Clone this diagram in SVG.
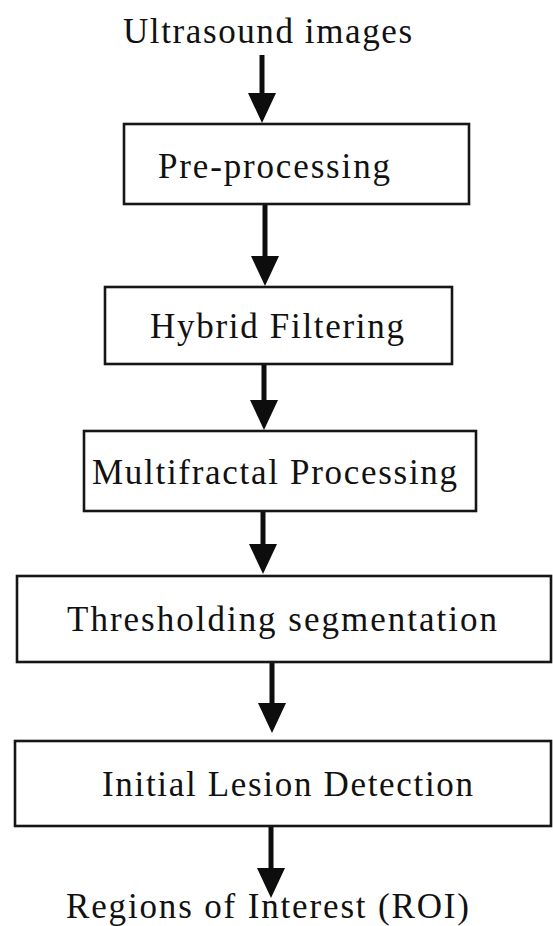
<svg xmlns="http://www.w3.org/2000/svg" width="553" height="926" viewBox="0 0 553 926">
  <style>
    .box { fill: #ffffff; stroke: #161616; stroke-width: 2.6; }
    .lbl { font-family: "Liberation Serif", "Times New Roman", serif; font-size: 35px; fill: #111111; }
    .flow { stroke: #0d0d0d; stroke-width: 5; fill: none; marker-end: url(#head); }
  </style>
  <defs>
    <!-- solid triangular head; the tip sits 20px beyond the end of the shaft -->
    <marker id="head" markerUnits="userSpaceOnUse" viewBox="0 0 30 28" refX="10" refY="14" markerWidth="30" markerHeight="28" orient="auto">
      <path d="M0,0 L30,14 L0,28 Z" fill="#0d0d0d"/>
    </marker>
  </defs>
  <rect width="553" height="926" fill="#ffffff"/>

  <g id="connectors">
    <line class="flow" x1="262" y1="55" x2="262" y2="103"/>
    <line class="flow" x1="265" y1="205" x2="265" y2="266"/>
    <line class="flow" x1="264" y1="365" x2="264" y2="410"/>
    <line class="flow" x1="263" y1="512" x2="263" y2="554"/>
    <line class="flow" x1="272" y1="663" x2="272" y2="713"/>
    <line class="flow" x1="271" y1="827" x2="271" y2="878"/>
  </g>

  <g id="input">
    <text class="lbl" x="123" y="43" textLength="289" lengthAdjust="spacing">Ultrasound images</text>
  </g>

  <g id="preprocessing">
    <rect class="box" x="124" y="124" width="345" height="80"/>
    <text class="lbl" x="158" y="178" textLength="232" lengthAdjust="spacing">Pre-processing</text>
  </g>

  <g id="hybrid-filtering">
    <rect class="box" x="105" y="287" width="347" height="77"/>
    <text class="lbl" x="150" y="338" textLength="254" lengthAdjust="spacing">Hybrid Filtering</text>
  </g>

  <g id="multifractal-processing">
    <rect class="box" x="84" y="431" width="392" height="80"/>
    <text class="lbl" x="92" y="484" textLength="365" lengthAdjust="spacing">Multifractal Processing</text>
  </g>

  <g id="thresholding-segmentation">
    <rect class="box" x="17" y="576" width="534" height="86"/>
    <text class="lbl" x="67" y="631" textLength="430" lengthAdjust="spacing">Thresholding segmentation</text>
  </g>

  <g id="initial-lesion-detection">
    <rect class="box" x="15" y="741" width="536" height="85"/>
    <text class="lbl" x="102" y="796" textLength="371" lengthAdjust="spacing">Initial Lesion Detection</text>
  </g>

  <g id="output">
    <text class="lbl" x="66" y="918" textLength="403" lengthAdjust="spacing">Regions of Interest (ROI)</text>
  </g>
</svg>
